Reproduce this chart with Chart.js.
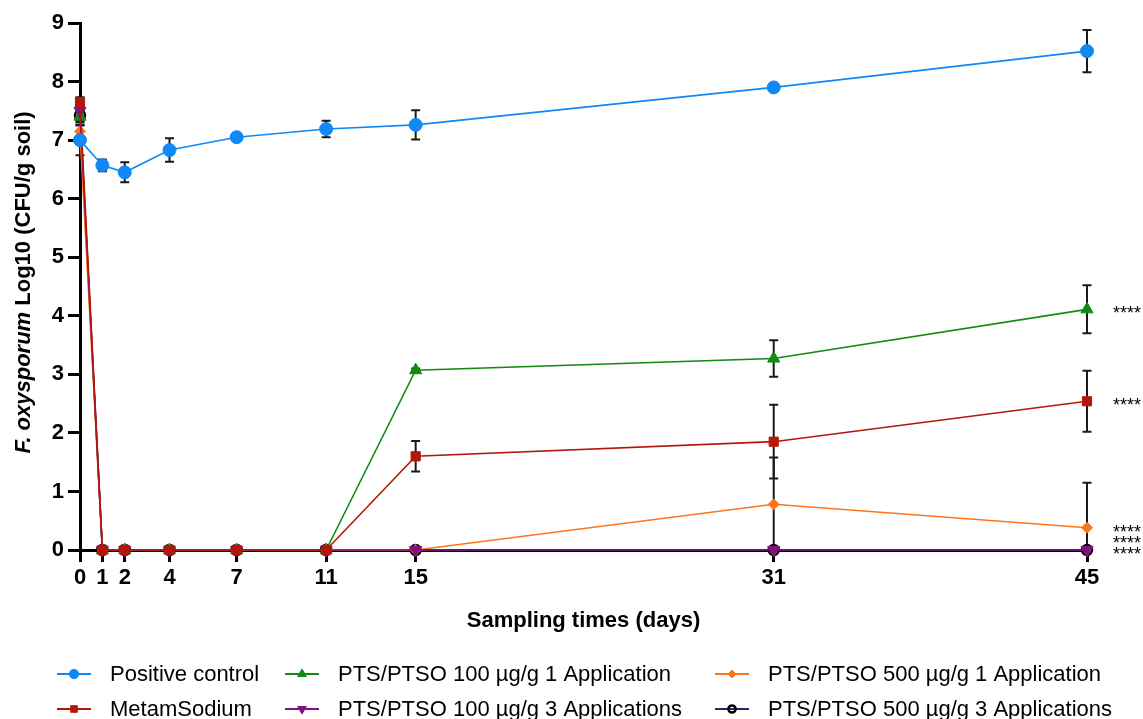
<!DOCTYPE html>
<html>
<head>
<meta charset="utf-8">
<script src="https://cdn.jsdelivr.net/npm/chart.js@4.4.1/dist/chart.umd.min.js"></script>
<style>
  html, body { margin: 0; padding: 0; background: #fff; }
  #wrap { width: 1143px; height: 719px; position: relative; }
</style>
</head>
<body>
<div id="wrap"><canvas id="chart"></canvas></div>
<script>
const xDays = [0, 1, 2, 4, 7, 11, 15, 31, 45];
const yTicks = [0, 1, 2, 3, 4, 5, 6, 7, 8, 9];

const positiveControl   = [7.00, 6.57, 6.45, 6.83, 7.05, 7.19, 7.26, 7.90, 8.52];
const positiveControlSd = [0.26, 0.10, 0.17, 0.20, 0.03, 0.14, 0.25, 0.03, 0.36];
const metamSodium       = [7.65, 0, 0, 0, 0, 0, 1.60, 1.85, 2.54];
const metamSodiumSd     = [0.08, 0, 0, 0, 0, 0, 0.26, 0.63, 0.52];
const pts100x1          = [7.40, 0, 0, 0, 0, 0, 3.07, 3.27, 4.11];
const pts100x1Sd        = [0.10, 0, 0, 0, 0, 0, 0.03, 0.31, 0.41];
const pts100x3          = [7.50, 0, 0, 0, 0, 0, 0, 0, 0];
const pts100x3Sd        = [0.10, 0, 0, 0, 0, 0, 0, 0, 0];
const pts500x1          = [7.15, 0, 0, 0, 0, 0, 0, 0.78, 0.38];
const pts500x1Sd        = [0.10, 0, 0, 0, 0, 0, 0, 0.80, 0.77];
const pts500x3          = [7.42, 0, 0, 0, 0, 0, 0, 0, 0];
const pts500x3Sd        = [0.10, 0, 0, 0, 0, 0, 0, 0, 0];

const seriesNames = [
  'Positive control', 'MetamSodium',
  'PTS/PTSO 100 \u00b5g/g 1 Application', 'PTS/PTSO 100 \u00b5g/g 3 Applications',
  'PTS/PTSO 500 \u00b5g/g 1 Application', 'PTS/PTSO 500 \u00b5g/g 3 Applications'
];
const significance = ['', '****', '****', '****', '****', '****'];

const FONT = '"Liberation Sans", Arial, Helvetica, sans-serif';

function pts(vals) {
  return vals.map((v, i) => ({ x: xDays[i], y: v }));
}

function mkSet(label, vals, sd, color, style, extra) {
  return Object.assign({
    label: label,
    data: pts(vals),
    sd: sd,
    borderColor: color,
    backgroundColor: color,
    pointBackgroundColor: color,
    pointBorderColor: color,
    borderWidth: 1.6,
    pointStyle: style,
    pointRadius: 6.5,
    pointBorderWidth: 1,
    tension: 0,
    clip: false
  }, extra || {});
}

const datasets = [
  mkSet(seriesNames[0], positiveControl, positiveControlSd, '#1088f5', 'circle', { order: 0 }),
  mkSet(seriesNames[1], metamSodium, metamSodiumSd, '#b3170b', 'rect', { order: 1, pointRadius: 6.5 }),
  mkSet(seriesNames[2], pts100x1, pts100x1Sd, '#138a12', 'triangle', { order: 4, pointRadius: 7 }),
  mkSet(seriesNames[3], pts100x3, pts100x3Sd, '#80127e', 'triangle', { order: 2, pointRadius: 7, pointRotation: 180 }),
  mkSet(seriesNames[4], pts500x1, pts500x1Sd, '#ff7419', 'rectRot', { order: 3, pointRadius: 5.5 }),
  mkSet(seriesNames[5], pts500x3, pts500x3Sd, '#25296b', 'circle', {
    order: 5, pointRadius: 5, pointBackgroundColor: 'rgba(255,255,255,0)', pointBorderColor: '#000', pointBorderWidth: 2.5
  })
];

// error bars, drawn under the markers
const errorBars = {
  id: 'errorBars',
  beforeDatasetsDraw(chart) {
    const { ctx, chartArea, scales: { x, y } } = chart;
    ctx.save();
    ctx.beginPath();
    ctx.rect(chartArea.left - 10, chartArea.top - 10, chartArea.right - chartArea.left + 20, chartArea.bottom - chartArea.top + 10);
    ctx.clip();
    ctx.strokeStyle = '#1a1a1a';
    ctx.lineWidth = 2;
    chart.data.datasets.forEach(ds => {
      ds.data.forEach((p, i) => {
        const s = ds.sd[i];
        if (!s) return;
        const px = x.getPixelForValue(p.x);
        const top = y.getPixelForValue(p.y + s);
        const bot = y.getPixelForValue(p.y - s);
        ctx.beginPath();
        ctx.moveTo(px, top); ctx.lineTo(px, bot);
        ctx.moveTo(px - 4.5, top); ctx.lineTo(px + 4.5, top);
        if (p.y - s >= 0) { ctx.moveTo(px - 4.5, bot); ctx.lineTo(px + 4.5, bot); }
        ctx.stroke();
      });
    });
    ctx.restore();
  }
};

// axis titles, significance stars and legend
const extras = {
  id: 'extras',
  afterDraw(chart) {
    const { ctx, chartArea, scales: { x, y } } = chart;
    ctx.save();
    ctx.fillStyle = '#000';

    // x title
    ctx.font = 'bold 22px ' + FONT;
    ctx.textAlign = 'center';
    ctx.textBaseline = 'middle';
    ctx.fillText('Sampling times (days)', (chartArea.left + chartArea.right) / 2, chartArea.bottom + 71);

    // y title, italic species name
    const part1 = 'F. oxysporum';
    const part2 = ' Log10 (CFU/g soil)';
    const f1 = 'italic bold 22px ' + FONT;
    const f2 = 'bold 22px ' + FONT;
    ctx.font = f1; const w1 = ctx.measureText(part1).width;
    ctx.font = f2; const w2 = ctx.measureText(part2).width;
    ctx.save();
    ctx.translate(24, (chartArea.top + chartArea.bottom) / 2 - 4);
    ctx.rotate(-Math.PI / 2);
    ctx.textAlign = 'left';
    ctx.font = f1; ctx.fillText(part1, -(w1 + w2) / 2, 0);
    ctx.font = f2; ctx.fillText(part2, -(w1 + w2) / 2 + w1, 0);
    ctx.restore();

    // significance stars at the last point, pushed apart near the baseline
    ctx.font = '18px ' + FONT;
    ctx.textAlign = 'left';
    ctx.textBaseline = 'alphabetic';
    const marks = [];
    chart.data.datasets.forEach((ds, i) => {
      if (!significance[i]) return;
      const last = ds.data[ds.data.length - 1];
      marks.push({ text: significance[i], py: y.getPixelForValue(last.y) });
    });
    marks.sort((a, b) => b.py - a.py);
    for (let i = 1; i < marks.length; i++) {
      if (marks[i - 1].py - marks[i].py < 11) marks[i].py = marks[i - 1].py - 11;
    }
    marks.forEach(m => ctx.fillText(m.text, chartArea.right + 26, m.py + 10));

    // legend: 3 columns x 2 rows
    const colX = [57, 285, 715];
    const rowY = [674, 709];
    ctx.font = '22px ' + FONT;
    ctx.textBaseline = 'middle';
    chart.data.datasets.forEach((ds, i) => {
      const cx = colX[Math.floor(i / 2)];
      const cy = rowY[i % 2];
      ctx.strokeStyle = ds.borderColor;
      ctx.lineWidth = 2;
      ctx.beginPath(); ctx.moveTo(cx, cy); ctx.lineTo(cx + 34, cy); ctx.stroke();
      ctx.fillStyle = ds.pointBackgroundColor;
      ctx.strokeStyle = ds.pointBorderColor;
      ctx.lineWidth = ds.pointBorderWidth;
      Chart.helpers.drawPoint(ctx, {
        pointStyle: ds.pointStyle, radius: ds.pointRadius * 0.72,
        rotation: ds.pointRotation || 0, borderWidth: ds.pointBorderWidth
      }, cx + 17, cy);
      ctx.fillStyle = '#000';
      ctx.fillText(ds.label, cx + 53, cy + 1);
    });
    ctx.restore();
  }
};

new Chart(document.getElementById('chart'), {
  type: 'line',
  data: { datasets: datasets },
  plugins: [errorBars, extras],
  options: {
    responsive: true,
    maintainAspectRatio: false,
    animation: false,
    layout: { padding: { top: 23, right: 56, bottom: 0, left: 0 } },
    plugins: { legend: { display: false }, tooltip: { enabled: false } },
    scales: {
      x: {
        type: 'linear',
        min: 0, max: 45,
        afterBuildTicks: s => { s.ticks = xDays.map(v => ({ value: v })); },
        afterFit: s => { s.height = 169; },
        border: { display: true, color: '#000', width: 3 },
        grid: { drawOnChartArea: false, drawTicks: true, tickLength: 12, tickWidth: 3, tickColor: '#000' },
        ticks: { color: '#000', font: { family: FONT, size: 22, weight: 'bold' }, padding: 3, maxRotation: 0, autoSkip: false }
      },
      y: {
        min: 0, max: 9,
        afterBuildTicks: s => { s.ticks = yTicks.map(v => ({ value: v })); },
        afterFit: s => { s.width = 80; },
        border: { display: true, color: '#000', width: 3 },
        grid: { drawOnChartArea: false, drawTicks: true, tickLength: 12, tickWidth: 3, tickColor: '#000' },
        ticks: { color: '#000', font: { family: FONT, size: 22, weight: 'bold' }, padding: 4 }
      }
    }
  }
});
</script>
</body>
</html>
